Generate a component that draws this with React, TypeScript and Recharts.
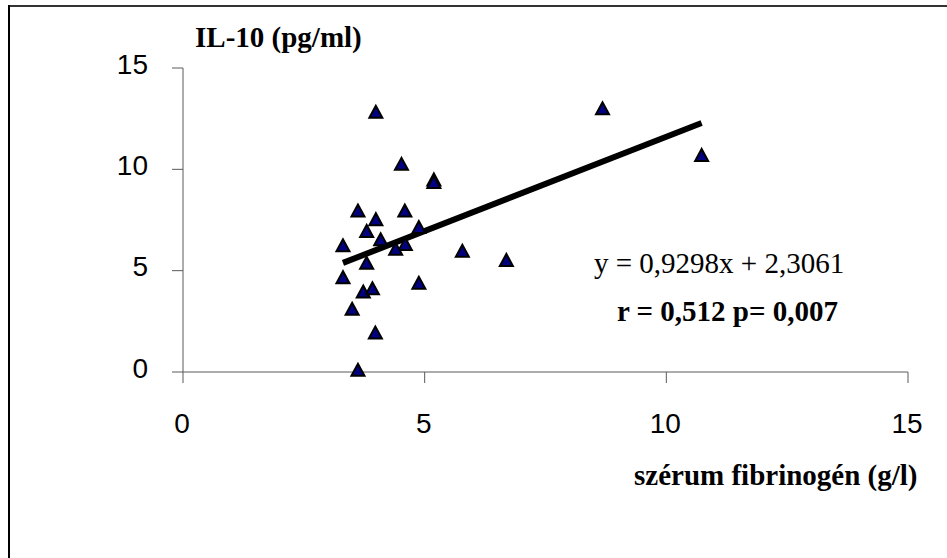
import React from "react";
import { ScatterChart, Scatter, XAxis, YAxis } from "recharts";

// serum fibrinogen (g/l) vs IL-10 (pg/ml)
const fibrinogen = [
  3.99, 4.52, 5.19, 5.19, 3.62, 4.59, 3.99, 3.8, 4.88, 4.09, 3.31, 4.6,
  4.4, 5.78, 6.69, 3.8, 3.31, 4.88, 3.73, 3.92, 3.5, 3.98, 3.62, 8.68, 10.73,
];
const il10 = [
  12.84, 10.27, 9.5, 9.38, 7.97, 7.97, 7.54, 6.96, 7.15, 6.55, 6.25, 6.32,
  6.08, 5.98, 5.53, 5.39, 4.68, 4.4, 3.97, 4.13, 3.12, 1.95, 0.11, 13.01, 10.71,
];
const xTicks = [0, 5, 10, 15];
const yTicks = [0, 5, 10, 15];
const slope = 0.9298;
const intercept = 2.3061;

const points = fibrinogen.map((x, i) => ({ x, y: il10[i] }));
const xMin = Math.min(...fibrinogen);
const xMax = Math.max(...fibrinogen);
const trend = [
  { x: xMin, y: slope * xMin + intercept },
  { x: xMax, y: slope * xMax + intercept },
];

const sans = "'Liberation Sans', Arial, sans-serif";
const serif = "'Liberation Serif', 'Times New Roman', serif";
const axisColor = "#5a5a5a";

const Triangle = (props: any) => {
  const { cx, cy } = props;
  if (cx == null || cy == null) return <g />;
  return (
    <polygon
      points={`${cx},${cy - 6} ${cx - 6.5},${cy + 6} ${cx + 6.5},${cy + 6}`}
      fill="#000080"
      stroke="#000"
      strokeWidth={2}
      strokeLinejoin="miter"
    />
  );
};

const YTick = (props: any) => {
  const { y, payload } = props;
  return (
    <text x={148} y={y + 5.5} textAnchor="end" fill="#000" fontSize={28} fontFamily={sans}>
      {payload.value}
    </text>
  );
};

const XTick = (props: any) => {
  const { x, payload } = props;
  return (
    <text x={x - 1} y={433} textAnchor="middle" fill="#000" fontSize={28} fontFamily={sans}>
      {payload.value}
    </text>
  );
};

export default function App() {
  return (
    <div style={{ position: "fixed", left: 0, top: 0, width: 947, height: 558, background: "#fff" }}>
      <ScatterChart
        width={947}
        height={558}
        margin={{ top: 68, right: 39, bottom: 156, left: 123 }}
      >
        <XAxis
          type="number"
          dataKey="x"
          domain={[0, 15]}
          ticks={xTicks}
          height={30}
          stroke={axisColor}
          tickSize={11}
          tick={<XTick />}
        />
        <YAxis
          type="number"
          dataKey="y"
          domain={[0, 15]}
          ticks={yTicks}
          width={60}
          stroke={axisColor}
          tickSize={11}
          tick={<YTick />}
        />
        <Scatter
          data={trend}
          line={{ stroke: "#000", strokeWidth: 6 }}
          shape={() => <g />}
          isAnimationActive={false}
        />
        <Scatter data={points} shape={<Triangle />} isAnimationActive={false} />
      </ScatterChart>
      <svg
        width={947}
        height={558}
        style={{ position: "absolute", left: 0, top: 0, pointerEvents: "none" }}
      >
        <line x1={9} y1={6} x2={947} y2={6} stroke="#333" strokeWidth={2} />
        <line x1={9} y1={5} x2={9} y2={558} stroke="#000" strokeWidth={2} />
        <text x={195} y={47} fontSize={29} fontWeight="bold" fontFamily={serif}>
          IL-10 (pg/ml)
        </text>
        <text x={594} y={273} fontSize={29} fontFamily={serif}>
          y = 0,9298x + 2,3061
        </text>
        <text x={617} y={321} fontSize={29} fontWeight="bold" fontFamily={serif}>
          r = 0,512 p= 0,007
        </text>
        <text x={634} y={485} fontSize={29} fontWeight="bold" fontFamily={serif}>
          szérum fibrinogén (g/l)
        </text>
      </svg>
    </div>
  );
}
